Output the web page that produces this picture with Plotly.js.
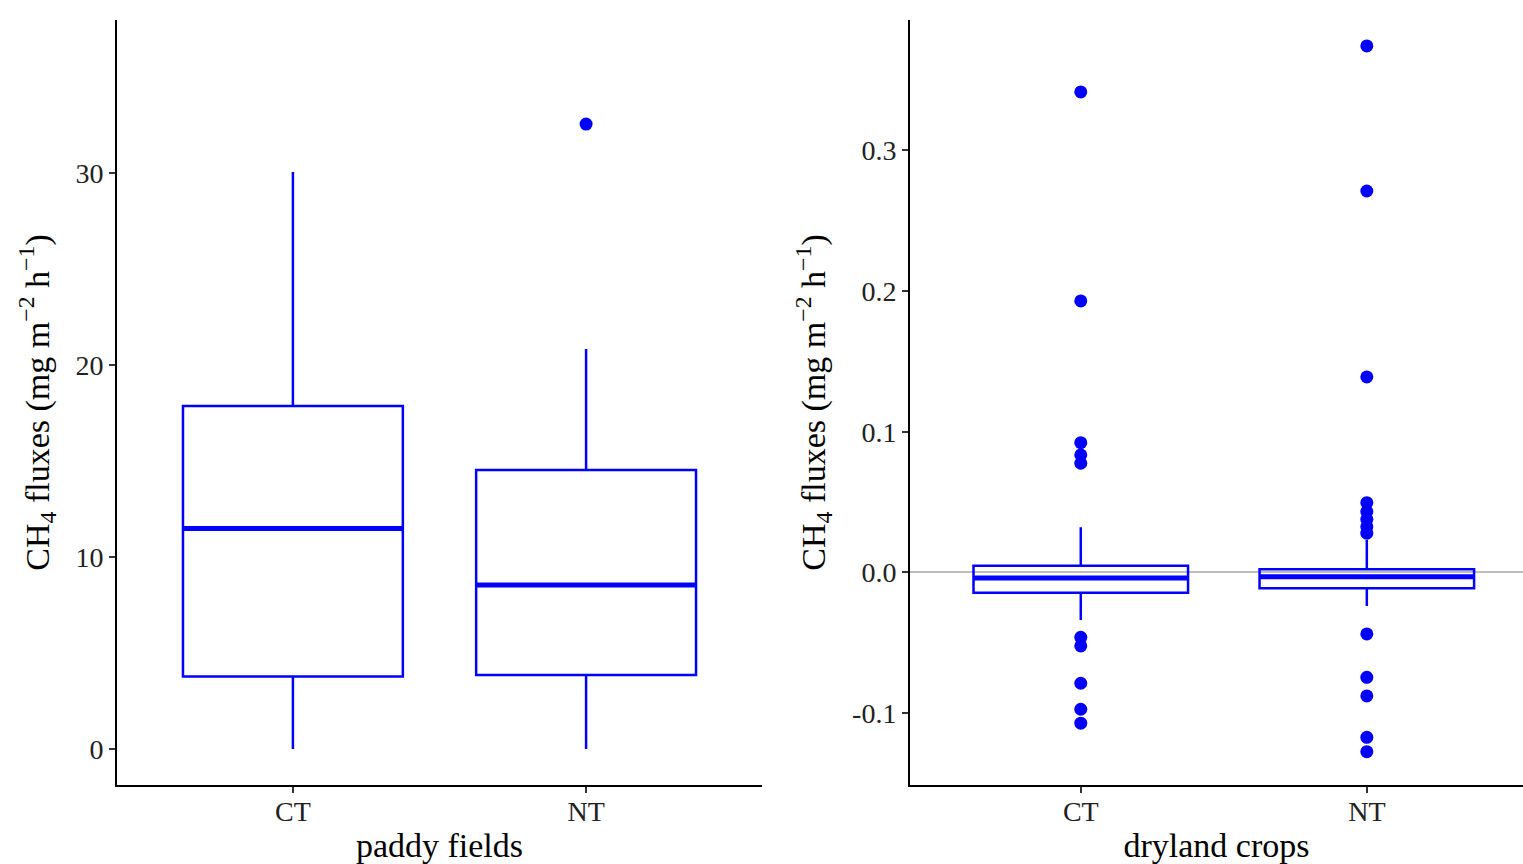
<!DOCTYPE html>
<html>
<head>
<meta charset="utf-8">
<script src="https://cdn.plot.ly/plotly-3.0.1.min.js"></script>
<style>html,body{margin:0;padding:0;background:#fff;}#chart{width:1523px;height:864px;}</style>
</head>
<body>
<div id="chart"></div>
<script>
// ---- data ----
const categories = ['CT', 'NT'];

// paddy fields (left panel)
const paddyQ1 = [3.77, 3.85];
const paddyMedian = [11.49, 8.54];
const paddyQ3 = [17.86, 14.53];
const paddyLower = [0.0, 0.0];
const paddyUpper = [30.05, 20.83];
const paddyOutCT = [];
const paddyOutNT = [32.55];

// dryland crops (right panel)
const dryQ1 = [-0.0144, -0.0112];
const dryMedian = [-0.0039, -0.0030];
const dryQ3 = [0.0048, 0.0023];
const dryLower = [-0.0337, -0.0238];
const dryUpper = [0.0321, 0.0231];
const dryOutCT = [0.3414, 0.1929, 0.0922, 0.0835, 0.0776, -0.0461, -0.0522, -0.0787, -0.0972, -0.1071];
const dryOutNT = [0.3741, 0.2710, 0.1389, 0.0496, 0.0432, 0.0378, 0.0325, 0.0279, -0.0437, -0.0745, -0.0877, -0.1171, -0.1273];

const leftTickVals = [0, 10, 20, 30];
const leftTickText = ['0', '10', '20', '30'];
const rightTickVals = [-0.1, 0.0, 0.1, 0.2, 0.3];
const rightTickText = ['-0.1', '0.0', '0.1', '0.2', '0.3'];

// ---- style ----
const BLUE = '#0000FF';
const FONT = 'Liberation Serif, Times New Roman, serif';
const BOXW = 0.75;

function boxTrace(q1, med, q3, lo, up, xa, ya) {
  return {
    type: 'box', x: categories, q1: q1, median: med, q3: q3,
    lowerfence: lo, upperfence: up,
    width: BOXW, whiskerwidth: 0, boxpoints: false,
    line: {color: BLUE, width: 2.5}, fillcolor: 'rgba(255,255,255,0)',
    xaxis: xa, yaxis: ya, hoverinfo: 'skip', showlegend: false
  };
}
function outTrace(cat, vals, xa, ya) {
  return {
    type: 'scatter', mode: 'markers', x: vals.map(() => cat), y: vals,
    marker: {color: BLUE, size: 13}, xaxis: xa, yaxis: ya,
    hoverinfo: 'skip', showlegend: false
  };
}

const traces = [
  boxTrace(paddyQ1, paddyMedian, paddyQ3, paddyLower, paddyUpper, 'x', 'y'),
  outTrace('CT', paddyOutCT, 'x', 'y'),
  outTrace('NT', paddyOutNT, 'x', 'y'),
  boxTrace(dryQ1, dryMedian, dryQ3, dryLower, dryUpper, 'x2', 'y2'),
  outTrace('CT', dryOutCT, 'x2', 'y2'),
  outTrace('NT', dryOutNT, 'x2', 'y2')
];

const shapes = [];
paddyMedian.forEach((m, i) => shapes.push({type: 'line', xref: 'x', yref: 'y', x0: i - BOXW / 2, x1: i + BOXW / 2, y0: m, y1: m, line: {color: BLUE, width: 5}, layer: 'above'}));
dryMedian.forEach((m, i) => shapes.push({type: 'line', xref: 'x2', yref: 'y2', x0: i - BOXW / 2, x1: i + BOXW / 2, y0: m, y1: m, line: {color: BLUE, width: 5}, layer: 'above'}));

const W = 1523;
const yTitle = 'CH<sub>4</sub> fluxes (mg m<sup>\u22122</sup> h<sup>\u22121</sup>)';
const axCommon = {
  showline: true, linecolor: '#000', linewidth: 2, mirror: false,
  ticks: 'outside', ticklen: 6, tickwidth: 2, tickcolor: '#333',
  showgrid: false, zeroline: false,
  tickfont: {family: FONT, size: 28, color: '#222'}
};

const layout = {
  width: 1523, height: 864,
  margin: {l: 0, r: 0, t: 20, b: 79},
  paper_bgcolor: '#fff', plot_bgcolor: '#fff',
  font: {family: FONT, color: '#000'},
  showlegend: false,
  xaxis: Object.assign({}, axCommon, {
    domain: [117 / W, 762 / W], anchor: 'y', type: 'category',
    range: [-0.6, 1.6], categoryorder: 'array', categoryarray: categories,
    ticklabelstandoff: -6,
    title: {text: 'paddy fields', font: {family: FONT, size: 34, color: '#000'}, standoff: 8}
  }),
  yaxis: Object.assign({}, axCommon, {
    domain: [0, 1], anchor: 'x', range: [-1.875, 37.97],
    tickvals: leftTickVals, ticktext: leftTickText,
    title: {text: yTitle, font: {family: FONT, size: 34, color: '#000'}, standoff: 16}
  }),
  xaxis2: Object.assign({}, axCommon, {
    domain: [910 / W, 1], anchor: 'y2', type: 'category',
    range: [-0.597, 1.546], categoryorder: 'array', categoryarray: categories,
    ticklabelstandoff: -6,
    title: {text: 'dryland crops', font: {family: FONT, size: 34, color: '#000'}, standoff: 8}
  }),
  yaxis2: Object.assign({}, axCommon, {
    domain: [0, 1], anchor: 'x2', range: [-0.151, 0.3925],
    tickvals: rightTickVals, ticktext: rightTickText,
    zeroline: true, zerolinecolor: '#bdbdbd', zerolinewidth: 2,
    title: {text: yTitle, font: {family: FONT, size: 34, color: '#000'}, standoff: 16}
  }),
  shapes: shapes
};

Plotly.newPlot('chart', traces, layout, {displayModeBar: false, staticPlot: true});
</script>
</body>
</html>
